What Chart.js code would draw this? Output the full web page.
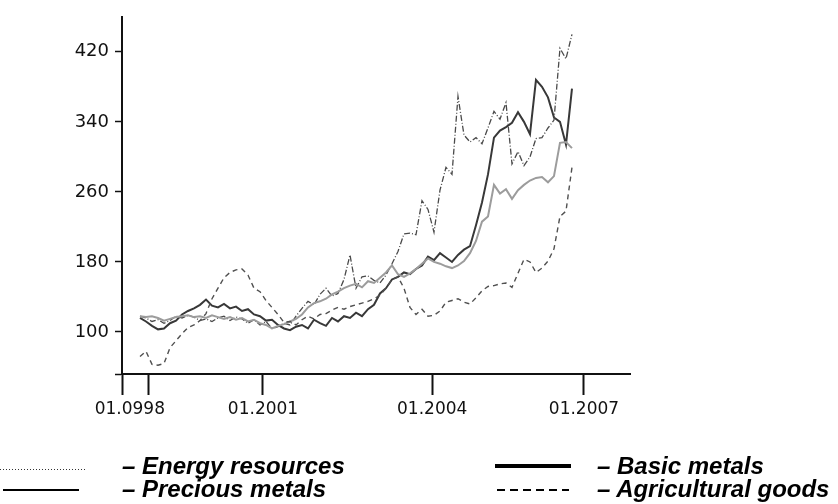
<!DOCTYPE html>
<html>
<head>
<meta charset="UTF-8">
<title>Commodity price indices</title>
<script src="https://cdn.jsdelivr.net/npm/chart.js@4.4.0/dist/chart.umd.min.js"></script>
<style>
    body { margin: 0; background: #fff; }
    #wrap { position: relative; width: 838px; height: 504px; overflow: hidden; }
    #chart { position: absolute; left: 0; top: 0; }
    .leg { position: absolute; font: italic bold 24px "Liberation Sans", Arial, sans-serif; color: #000; white-space: nowrap; line-height: 26px; }
    .sample { position: absolute; }
</style>
</head>
<body>
<div id="wrap">
    <canvas id="chart" width="838" height="504"></canvas>
</div>

<script>
    // x tick marks / labels, in units of the point index
    const xTickLabels = ['01.0998', '01.2001', '01.2004', '01.2007'];
    const xLabelAt = [-1.7, 20.5, 48.7, 74];
    const xMarkAt = [-3, 1.5, 20.5, 48.7, 74];
    const yTickValues = [100, 180, 260, 340, 420];

    // series (index points, roughly one per month-ish)
    const energy = [118, 116, 112, 114, 110, 113, 118, 116, 119, 117,
                    113, 115, 112, 116, 118, 113, 117, 115, 110, 114,
                    108, 112, 104, 106, 110, 108, 118, 127, 135, 131,
                    143, 150, 141, 144, 160, 188, 150, 163, 164, 159,
                    156, 165, 178, 192, 212, 213, 211, 250, 240, 214,
                    262, 288, 280, 369, 325, 317, 322, 315, 333, 352,
                    343, 362, 292, 306, 290, 300, 321, 322, 333, 342,
                    424, 412, 440];
    const basic = [116, 112, 107, 103, 104, 110, 113, 120, 124, 127,
                   131, 137, 130, 128, 132, 127, 129, 124, 126, 120,
                   118, 113, 114, 108, 104, 102, 106, 108, 104, 114,
                   110, 107, 116, 112, 118, 116, 122, 118, 126, 131,
                   144, 150, 160, 163, 168, 166, 172, 176, 186, 182,
                   190, 185, 180, 188, 194, 198, 222, 248, 280, 322,
                   330, 334, 339, 351, 340, 326, 388, 380, 368, 345,
                   340, 314, 378];
    const precious = [118, 117, 118, 116, 113, 115, 117, 118, 119, 117,
                      118, 116, 119, 117, 115, 117, 114, 116, 112, 114,
                      110, 108, 104, 107, 109, 112, 115, 120, 128, 133,
                      135, 138, 143, 146, 150, 153, 155, 151, 158, 156,
                      162, 168, 176, 166, 163, 167, 172, 178, 184, 180,
                      178, 175, 173, 176, 181, 190, 204, 226, 232, 268,
                      258, 263, 252, 262, 268, 273, 276, 277, 271, 278,
                      316, 317, 310];
    const agri = [72, 78, 63, 62, 64, 82, 90, 98, 105, 108,
                  113, 121, 138, 150, 162, 168, 171, 172, 165, 150,
                  146, 136, 128, 120, 111, 112, 108, 114, 118, 115,
                  120, 121, 125, 128, 126, 129, 131, 133, 135, 138,
                  142, 150, 160, 163, 150, 128, 120, 126, 118, 119,
                  124, 134, 136, 138, 134, 132, 139, 147, 152, 153,
                  155, 156, 151, 167, 183, 180, 168, 173, 181, 195,
                  232, 238, 288];

    const points = energy.map((_, i) => i);
    const xTicks = Array.from(new Set(xMarkAt.concat(xLabelAt))).sort((a, b) => a - b);

    const ctx = document.getElementById('chart').getContext('2d');
    new Chart(ctx, {
        type: 'line',
        data: {
            labels: points,
            datasets: [
                { label: 'Agricultural goods', data: agri, borderColor: '#505050', borderWidth: 1.4, borderDash: [5, 4] },
                { label: 'Precious metals', data: precious, borderColor: '#9c9c9c', borderWidth: 2 },
                { label: 'Energy resources', data: energy, borderColor: '#4a4a4a', borderWidth: 1.3, borderDash: [6, 2, 1, 2] },
                { label: 'Basic metals', data: basic, borderColor: '#383838', borderWidth: 2 }
            ]
        },
        options: {
            responsive: false,
            animation: false,
            layout: { padding: { left: 0, top: 15, right: 208, bottom: 80 } },
            plugins: { legend: { display: false }, tooltip: { enabled: false } },
            elements: { point: { radius: 0 }, line: { tension: 0, fill: false } },
            scales: {
                x: {
                    type: 'linear',
                    min: -3,
                    max: 81.67,
                    afterBuildTicks: s => { s.ticks = xTicks.map(v => ({ value: v })); },
                    afterFit: s => { s.height = 50; },
                    grid: {
                        drawOnChartArea: false, tickLength: 21, tickWidth: 2,
                        tickColor: c => (c.tick && xMarkAt.includes(c.tick.value)) ? '#111' : 'rgba(0,0,0,0)'
                    },
                    border: { color: '#111', width: 2 },
                    ticks: {
                        color: '#111', padding: 4, maxRotation: 0, autoSkip: false,
                        font: { family: 'DejaVu Sans', size: 17 },
                        callback: v => { const k = xLabelAt.indexOf(v); return k < 0 ? '' : xTickLabels[k]; }
                    }
                },
                y: {
                    min: 52,
                    max: 460,
                    afterBuildTicks: s => { s.ticks = [52].concat(yTickValues).map(v => ({ value: v })); },
                    afterFit: s => { s.width = 122; },
                    grid: { drawOnChartArea: false, tickLength: 7, tickWidth: 1.5, tickColor: '#111' },
                    border: { color: '#111', width: 2 },
                    ticks: {
                        color: '#111', padding: 6, autoSkip: false,
                        font: { family: 'DejaVu Sans', size: 18 },
                        callback: v => yTickValues.includes(v) ? String(v) : ''
                    }
                }
            }
        }
    });

    // legend, drawn as html below the chart
    const legendItems = [
        { name: 'Energy resources', kind: 'dots', left: 0, textLeft: 122, top: 453 },
        { name: 'Basic metals', kind: 'thick', left: 495, textLeft: 597, top: 453 },
        { name: 'Precious metals', kind: 'solid', left: 3, textLeft: 122, top: 476 },
        { name: 'Agricultural goods', kind: 'dash', left: 497, textLeft: 597, top: 476 }
    ];
    const wrap = document.getElementById('wrap');
    legendItems.forEach(it => {
        const s = document.createElement('div');
        s.className = 'sample';
        s.style.left = it.left + 'px';
        s.style.width = (it.kind === 'dots' ? 86 : it.kind === 'dash' ? 72 : 76) + 'px';
        if (it.kind === 'dots') {
            s.style.top = (it.top + 16) + 'px';
            s.style.height = '1px';
            s.style.background = 'repeating-linear-gradient(to right, #333 0 1px, transparent 1px 3px)';
        } else if (it.kind === 'thick') {
            s.style.top = (it.top + 11) + 'px';
            s.style.height = '4px';
            s.style.background = '#000';
        } else if (it.kind === 'solid') {
            s.style.top = (it.top + 13) + 'px';
            s.style.height = '2px';
            s.style.background = '#000';
        } else {
            s.style.top = (it.top + 13) + 'px';
            s.style.height = '2px';
            s.style.background = 'repeating-linear-gradient(to right, #000 0 8px, transparent 8px 13px)';
        }
        wrap.appendChild(s);

        const t = document.createElement('div');
        t.className = 'leg';
        t.style.left = it.textLeft + 'px';
        t.style.top = it.top + 'px';
        t.textContent = '\u2013 ' + it.name;
        wrap.appendChild(t);
    });
</script>
</body>
</html>
